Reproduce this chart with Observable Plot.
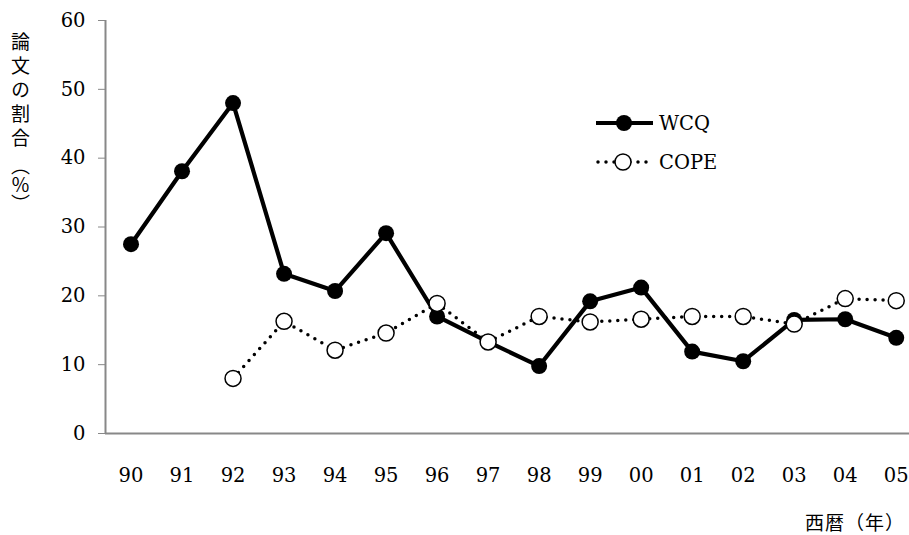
<!DOCTYPE html>
<html><head><meta charset="utf-8">
<script src="https://cdn.jsdelivr.net/npm/d3@7"></script>
<script src="https://cdn.jsdelivr.net/npm/@observablehq/plot@0.6"></script>
<style>
body{margin:0;background:#fff}
#wrap{position:relative;width:909px;height:535px;font-family:"DejaVu Serif",serif;color:#000}
#ylab{position:absolute;left:9px;top:32px;writing-mode:vertical-rl;font-family:"Noto Sans CJK JP";font-size:19px;letter-spacing:5px;line-height:22px}
#ylab .g{letter-spacing:9px}
#ylab .p{letter-spacing:0px}
#xlab{position:absolute;right:4px;top:508px;font-family:"Noto Sans CJK JP";font-size:19px;letter-spacing:1px;white-space:nowrap}
.leg{position:absolute;left:596px;height:24px;display:flex;align-items:center;font-size:19.5px}
.leg svg{margin-right:6px}
</style></head>
<body><div id="wrap"></div>
<script>
const years = ["90","91","92","93","94","95","96","97","98","99","00","01","02","03","04","05"];
const wcq  = [27.5,38.1,48.0,23.2,20.7,29.1,17.0,13.3,9.8,19.2,21.2,11.9,10.5,16.5,16.6,13.9];
const cope = [null,null,8.0,16.3,12.1,14.6,18.9,13.3,17.0,16.2,16.6,17.0,17.0,15.9,19.6,19.3];
const yTicks = [0,10,20,30,40,50,60];
const seriesNames = ["WCQ","COPE"];

const data = years.map((y,i)=>({i, year:y, wcq:wcq[i], cope:cope[i]}));
const copeData = data.filter(d=>d.cope!=null);

const chart = Plot.plot({
  width:909, height:535,
  marginLeft:105, marginRight:0, marginTop:20, marginBottom:102,
  style:{fontFamily:"DejaVu Serif, serif", fontSize:"19.5px", color:"#000", background:"#fff"},
  x:{domain:[-0.5,15.26]},
  y:{domain:[0,60]},
  marks:[
    Plot.ruleY([0],{stroke:"#888",strokeWidth:2}),
    Plot.ruleX([-0.5],{stroke:"#888",strokeWidth:2}),
    Plot.axisY({ticks:yTicks, tickSize:7, tickPadding:13, stroke:"#888", fill:"#000", label:null, fontSize:19.5}),
    Plot.axisX({ticks:d3.range(years.length), tickFormat:i=>years[i], tickSize:0, tickPadding:35, fill:"#000", label:null, fontSize:19.5}),
    Plot.line(data,{x:"i",y:"wcq",stroke:"#000",strokeWidth:4.2}),
    Plot.dot(data,{x:"i",y:"wcq",r:8,fill:"#000",stroke:"none"}),
    Plot.line(copeData,{x:"i",y:"cope",stroke:"#000",strokeWidth:3.5,strokeDasharray:"0 8",strokeLinecap:"round"}),
    Plot.dot(copeData,{x:"i",y:"cope",r:8,fill:"#fff",stroke:"#000",strokeWidth:1.5})
  ]
});
const wrap = document.getElementById("wrap");
wrap.appendChild(chart);

const ylab = document.createElement("div");
ylab.id="ylab";
ylab.innerHTML = '論文の割<span class="g">合</span><span class="p">（％）</span>';
wrap.appendChild(ylab);

const xlab = document.createElement("div");
xlab.id="xlab"; xlab.textContent="西暦（年）";
wrap.appendChild(xlab);

const legTops=[111,150];
seriesNames.forEach((name,k)=>{
  const div=document.createElement("div");
  div.className="leg"; div.style.top=legTops[k]+"px";
  const svg = k===0
   ? '<svg width="57" height="24"><line x1="0" y1="12" x2="57" y2="12" stroke="#000" stroke-width="4"/><circle cx="28" cy="12" r="8" fill="#000"/></svg>'
   : '<svg width="57" height="24"><line x1="2" y1="12" x2="55" y2="12" stroke="#000" stroke-width="3.5" stroke-dasharray="0 8" stroke-linecap="round"/><circle cx="27" cy="12" r="8" fill="#fff" stroke="#000" stroke-width="1.5"/></svg>';
  div.innerHTML = svg + '<span>'+name+'</span>';
  wrap.appendChild(div);
});
</script></body></html>
